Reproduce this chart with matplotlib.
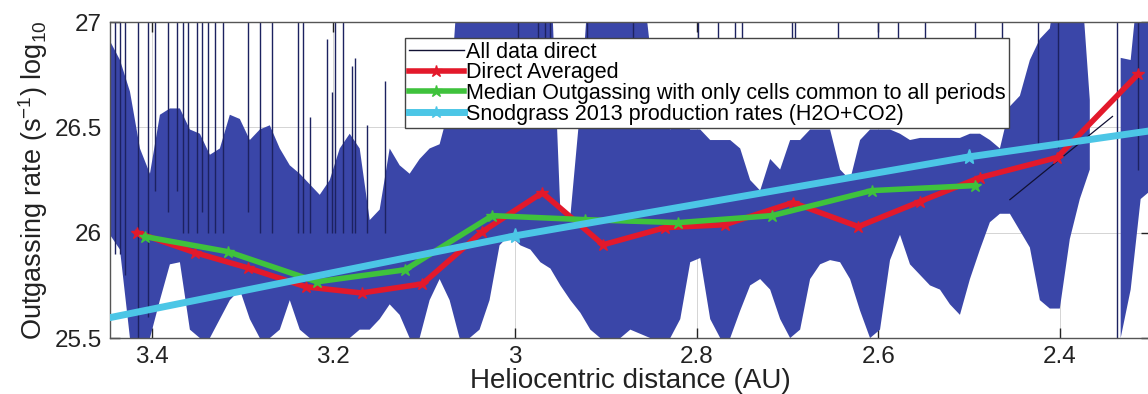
import numpy as np
import matplotlib
matplotlib.use("Agg")
import matplotlib.pyplot as plt
from matplotlib.lines import Line2D

plt.rcParams['font.family'] = ['Liberation Sans', 'DejaVu Sans']
plt.rcParams['mathtext.fontset'] = 'custom'
plt.rcParams['mathtext.rm'] = 'Liberation Sans'
plt.rcParams['mathtext.it'] = 'Liberation Sans:italic'
plt.rcParams['mathtext.bf'] = 'Liberation Sans:bold'

# ---------------- data ----------------
# "All data direct": envelope (lower / upper) of the dense raw signal
raw_r = [3.446, 3.435, 3.424, 3.413, 3.402, 3.391, 3.380, 3.369, 3.358, 3.347,
         3.336, 3.325, 3.314, 3.303, 3.292, 3.281, 3.270, 3.259, 3.248, 3.237,
         3.226, 3.215, 3.204, 3.193, 3.182, 3.171, 3.160, 3.149, 3.138, 3.127,
         3.116, 3.105, 3.094, 3.083, 3.072, 3.061, 3.050, 3.039, 3.028, 3.017,
         3.006, 2.994, 2.983, 2.972, 2.961, 2.950, 2.939, 2.928, 2.917, 2.906,
         2.895, 2.884, 2.873, 2.862, 2.851, 2.840, 2.829, 2.818, 2.807, 2.796,
         2.785, 2.774, 2.763, 2.752, 2.741, 2.730, 2.719, 2.708, 2.697, 2.686,
         2.675, 2.664, 2.653, 2.642, 2.631, 2.620, 2.609, 2.598, 2.587, 2.576,
         2.565, 2.554, 2.543, 2.532, 2.521, 2.510, 2.499, 2.488, 2.477, 2.466,
         2.455, 2.444, 2.433, 2.422, 2.411, 2.400, 2.389, 2.378, 2.367, 2.356,
         2.344, 2.333, 2.322, 2.311, 2.300]
raw_high = [26.91, 26.82, 26.67, 26.40, 26.28, 26.56, 26.59, 26.59, 26.49, 26.47,
            26.37, 26.40, 26.56, 26.54, 26.44, 26.49, 26.51, 26.40, 26.32, 26.28,
            26.23, 26.18, 26.25, 26.40, 26.47, 26.40, 26.06, 26.11, 26.40, 26.32,
            26.28, 26.35, 26.40, 26.42, 26.60, 27.30, 27.30, 27.30, 27.30, 27.30,
            27.30, 27.30, 27.30, 27.30, 27.30, 26.10, 26.08, 26.60, 27.30, 27.30,
            27.30, 27.30, 27.30, 27.30, 26.87, 26.54, 26.49, 26.54, 26.49, 26.49,
            26.44, 26.44, 26.44, 26.40, 26.25, 26.20, 26.35, 26.30, 26.44, 26.44,
            26.49, 26.49, 26.49, 26.30, 26.25, 26.44, 26.49, 26.49, 26.49, 26.47,
            26.44, 26.45, 26.45, 26.45, 26.45, 26.45, 26.47, 26.47, 26.44, 26.40,
            26.60, 26.65, 26.82, 26.92, 26.97, 27.30, 27.30, 27.30, 26.63, np.nan,
            np.nan, 26.83, 26.82, 27.30, 27.30]
raw_low = [25.99, 25.92, 25.50, 25.50, 25.50, 25.68, 25.85, 25.86, 25.54, 25.50,
           25.50, 25.59, 25.68, 25.73, 25.59, 25.50, 25.50, 25.54, 25.68, 25.54,
           25.50, 25.50, 25.50, 25.50, 25.50, 25.54, 25.54, 25.59, 25.66, 25.61,
           25.50, 25.50, 25.68, 25.78, 25.68, 25.50, 25.50, 25.54, 25.68, 25.94,
           25.99, 25.94, 25.92, 25.86, 25.83, 25.75, 25.68, 25.62, 25.54, 25.50,
           25.50, 25.50, 25.54, 25.52, 25.50, 25.50, 25.50, 25.59, 25.86, 25.88,
           25.59, 25.50, 25.50, 25.63, 25.75, 25.78, 25.73, 25.59, 25.50, 25.54,
           25.78, 25.85, 25.87, 25.86, 25.78, 25.63, 25.50, 25.54, 25.87, 25.99,
           25.85, 25.80, 25.75, 25.73, 25.66, 25.61, 25.78, 25.92, 26.05, 26.09,
           26.09, 26.01, 25.93, 25.68, 25.64, 25.64, 25.97, 26.16, 26.30, np.nan,
           np.nan, 25.50, 25.73, 26.16, 26.20]
# isolated thin spikes of the raw signal
spike_r = [3.441, 3.435, 3.430, 3.415, 3.404, 3.396, 3.382, 3.372, 3.366, 3.360,
           3.350, 3.345, 3.338, 3.330, 3.322, 3.294, 3.281, 3.268, 3.239, 3.233,
           3.226, 3.207, 3.202, 3.198, 3.189, 3.180, 3.176, 3.163, 3.143,
           2.997, 2.975, 2.967, 2.961, 2.921, 2.870, 2.798, 2.776, 2.758, 2.750,
           2.695, 2.692, 2.644, 2.600, 2.578, 2.548, 2.493, 2.464, 2.424, 2.402,
           2.337, 2.314]
spike_top = [27.3, 27.3, 27.3, 27.3, 27.3, 27.3, 27.3, 27.3, 27.3, 27.3,
             27.3, 27.3, 27.3, 27.3, 27.3, 27.3, 27.3, 27.3, 27.3, 27.3,
             26.55, 26.92, 26.67, 27.3, 27.3, 26.79, 26.83, 26.51, 26.72,
             27.3, 27.3, 27.3, 27.3, 27.3, 27.3, 27.3, 27.3, 27.3, 27.3,
             27.3, 27.3, 27.3, 27.3, 27.3, 27.3, 27.3, 27.3, 27.3, 27.3,
             27.3, 27.3]
spike_bottom = [25.9, 25.9, 25.8, 25.5, 25.6, 26.2, 26.1, 26.2, 26.0, 26.0,
                26.0, 26.1, 26.0, 26.0, 26.0, 26.1, 26.0, 26.0, 26.0, 26.0,
                26.0, 26.0, 26.0, 26.0, 26.0, 26.0, 26.0, 26.0, 26.0,
                26.9, 26.9, 26.9, 26.9, 26.9, 26.9, 26.9, 26.9, 26.9, 26.9,
                26.9, 26.9, 26.9, 26.9, 26.9, 26.9, 26.9, 26.9, 26.4, 26.4,
                25.5, 26.3]
# straight raw-data segment bridging the data gap near 2.35 AU
link_r = [2.455, 2.342]
link_q = [26.157, 26.552]

# Direct Averaged
avg_r = [3.416, 3.352, 3.294, 3.230, 3.169, 3.102, 3.036, 2.970, 2.903, 2.835,
         2.769, 2.694, 2.622, 2.554, 2.488, 2.403, 2.314]
avg_q = [26.00, 25.905, 25.833, 25.743, 25.714, 25.757, 26.005, 26.19, 25.943,
         26.024, 26.038, 26.143, 26.029, 26.148, 26.262, 26.357, 26.752]

# Median Outgassing with only cells common to all periods
med_r = [3.407, 3.316, 3.218, 3.121, 3.025, 2.923, 2.820, 2.717, 2.607, 2.493]
med_q = [25.981, 25.910, 25.767, 25.824, 26.081, 26.062, 26.048, 26.081, 26.200,
         26.224]

# Snodgrass 2013 production rates (H2O+CO2)
snod_r = [3.5, 3.0, 2.5, 2.0]
snod_q = [25.55, 25.985, 26.36, 26.67]

x_ticks = [3.4, 3.2, 3.0, 2.8, 2.6, 2.4]
x_tick_labels = ['3.4', '3.2', '3', '2.8', '2.6', '2.4']
y_ticks = [25.5, 26.0, 26.5, 27.0]
y_tick_labels = ['25.5', '26', '26.5', '27']

# ---------------- figure ----------------
fig = plt.figure(figsize=(11.48, 3.94), dpi=100)
ax = fig.add_axes([0.0958, 0.142, 0.9065, 0.802])

blue = '#3a46a8'
r = np.array(raw_r)
hi = np.array(raw_high)
lo = np.array(raw_low)
ok = ~np.isnan(hi)
ax.fill_between(r, lo, hi, where=ok, color=blue, linewidth=0, zorder=2)
ax.vlines(spike_r, spike_bottom, spike_top, color='#1c2260', linewidth=1.0,
          zorder=2)
ax.plot(link_r, link_q, color='#111133', lw=0.9, zorder=3)

ax.plot(avg_r, avg_q, color='#e3192b', lw=4, marker='*', ms=9, zorder=4)
ax.plot(med_r, med_q, color='#3fc23c', lw=4, marker='*', ms=9, zorder=5)
ax.plot(snod_r, snod_q, color='#4cc6e6', lw=5, marker='*', ms=11, zorder=6)

ax.set_xlim(3.446, 2.30)
ax.set_ylim(25.5, 27.0)
ax.set_xticks(x_ticks)
ax.set_xticklabels(x_tick_labels)
ax.set_yticks(y_ticks)
ax.set_yticklabels(y_tick_labels)
ax.grid(True, color='#d4d4d4', linewidth=0.7, zorder=0)
ax.set_axisbelow(True)
ax.tick_params(direction='in', length=7, width=1, top=True, right=True,
               labelsize=17.5, colors='#222222', pad=6)
for s in ax.spines.values():
    s.set_color('#555555')
    s.set_linewidth(1.0)

ax.set_xlabel('Heliocentric distance (AU)', fontsize=20, color='#222222',
              labelpad=0)
ax.set_ylabel('Outgassing rate (s$^{-1}$) log$_{10}$', fontsize=19.5,
              color='#222222', labelpad=3)

handles = [Line2D([], [], color='#111133', lw=1),
           Line2D([], [], color='#e3192b', lw=4, marker='*', ms=9),
           Line2D([], [], color='#3fc23c', lw=4, marker='*', ms=9),
           Line2D([], [], color='#4cc6e6', lw=5, marker='*', ms=9)]
labels = ['All data direct', 'Direct Averaged',
          'Median Outgassing with only cells common to all periods',
          'Snodgrass 2013 production rates (H2O+CO2)']
leg = ax.legend(handles, labels, loc='upper left',
                bbox_to_anchor=(405 / 1148, 1 - 38 / 394),
                bbox_transform=fig.transFigure, borderaxespad=0,
                fontsize=15.5, handlelength=2.55, handletextpad=0.1,
                labelspacing=-0.02, borderpad=0.18, frameon=True,
                fancybox=False, framealpha=1, edgecolor='#444444')
leg.get_frame().set_linewidth(1.0)
leg.set_zorder(10)

fig.savefig('out.png', dpi=100)
